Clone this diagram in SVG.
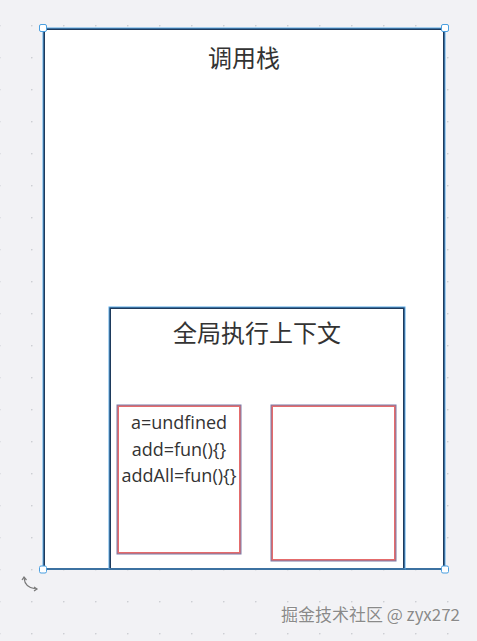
<svg xmlns="http://www.w3.org/2000/svg" width="477" height="641" viewBox="0 0 477 641">
<defs>
<pattern id="dots" x="31" y="25" width="32" height="32" patternUnits="userSpaceOnUse">
<circle cx="0.8" cy="0.8" r="0.8" fill="#c4c6cc"/>
</pattern>
<style>
.frame{fill:#fff;stroke:#1e3a5c;stroke-width:2}
.sel{fill:none;stroke:#5aa9e6;stroke-width:1}
.red{fill:#fff;stroke:#e56b6b;stroke-width:2}
.redo{fill:none;stroke:#7a7aa8;stroke-width:1}
.title{font-family:"Noto Sans CJK SC","Noto Sans",sans-serif;font-size:24px;fill:#333;text-anchor:middle}
.code{font-family:"Open Sans","Noto Sans",sans-serif;font-size:18px;fill:#333;text-anchor:middle}
.handle{fill:#fff;stroke:#4a9fe0;stroke-width:1}
</style>
</defs>
<rect width="477" height="641" fill="#f2f2f5"/>
<rect width="477" height="641" fill="url(#dots)"/>
<g id="callstack">
<rect class="frame" x="44" y="29" width="400" height="540"/>
<rect class="sel" x="43" y="28" width="402" height="541"/>
<text class="title" x="244" y="67">调用栈</text>
</g>
<g id="global-context">
<rect class="frame" x="110" y="308" width="294" height="261"/>
<rect class="sel" x="109" y="307" width="296" height="262"/>
<text class="title" x="257" y="342">全局执行上下文</text>
</g>
<g id="variable-env">
<rect class="red" x="118" y="406" width="122" height="147"/>
<rect class="redo" x="117" y="405" width="124" height="149"/>
<text class="code" x="179" y="429">a=undfined</text>
<text class="code" x="179" y="456">add=fun(){}</text>
<text class="code" x="179" y="482">addAll=fun(){}</text>
</g>
<g id="lexical-env">
<rect class="red" x="272" y="406" width="123" height="154"/>
<rect class="redo" x="271" y="405" width="125" height="156"/>
</g>
<g id="connectors"></g>
<g id="handles">
<rect class="handle" x="39.5" y="24.5" width="7" height="7" rx="1.5"/>
<rect class="handle" x="441.5" y="24.5" width="7" height="7" rx="1.5"/>
<rect class="handle" x="39.5" y="566" width="7" height="7" rx="1.5"/>
<rect class="handle" x="441.5" y="566" width="7" height="7" rx="1.5"/>
<path d="M24 578 Q25 588 36 589" fill="none" stroke="#777" stroke-width="1.2"/>
<path d="M22 580 L24 577 L26.5 580" fill="none" stroke="#777" stroke-width="1.2"/>
<path d="M34 587 L37 589 L34 591" fill="none" stroke="#777" stroke-width="1.2"/>
</g>
<text x="460" y="621" font-family="Noto Sans CJK SC,Noto Sans,sans-serif" font-size="17" fill="#8a8a8a" stroke="#fff" stroke-width="0.6" paint-order="stroke" text-anchor="end">掘金技术社区 @ zyx272</text>
</svg>
